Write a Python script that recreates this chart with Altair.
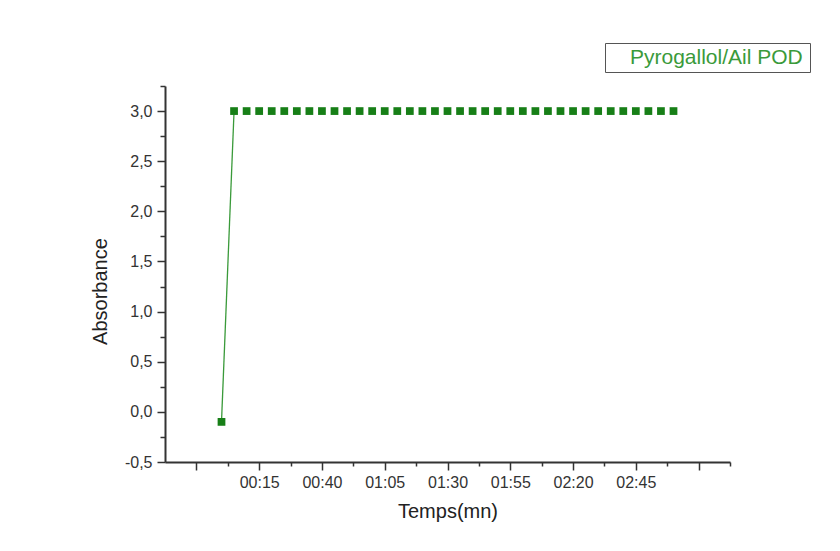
import altair as alt
import pandas as pd

# Data (time in seconds, absorbance)
times = [0, 5, 10, 15, 20, 25, 30, 35, 40, 45, 50, 55, 60, 65, 70, 75, 80, 85, 90,
         95, 100, 105, 110, 115, 120, 125, 130, 135, 140, 145, 150, 155, 160, 165,
         170, 175, 180]
absorbance = [-0.1, 3.0, 3.0, 3.0, 3.0, 3.0, 3.0, 3.0, 3.0, 3.0, 3.0, 3.0, 3.0,
              3.0, 3.0, 3.0, 3.0, 3.0, 3.0, 3.0, 3.0, 3.0, 3.0, 3.0, 3.0, 3.0,
              3.0, 3.0, 3.0, 3.0, 3.0, 3.0, 3.0, 3.0, 3.0, 3.0, 3.0]
series_name = "Pyrogallol/Ail POD"

x_major = [-10, 15, 40, 65, 90, 115, 140, 165, 190]
x_minor = [2.5, 27.5, 52.5, 77.5, 102.5, 127.5, 152.5, 177.5, 202.5]
y_major = [-0.5, 0.0, 0.5, 1.0, 1.5, 2.0, 2.5, 3.0]
y_minor = [-0.25, 0.25, 0.75, 1.25, 1.75, 2.25, 2.75, 3.25]

df = pd.DataFrame({"time": times, "abs": absorbance, "series": [series_name] * len(times)})

GREEN = "#177f17"
LINE_GREEN = "#3a9a3a"
AXIS = "#333333"
FONT = "Liberation Sans"

xs = alt.Scale(domain=[-22.5, 202.5], nice=False, zero=False)
ys = alt.Scale(domain=[-0.5, 3.25], nice=False, zero=False)

x_label_expr = ("datum.value >= 0 && datum.value <= 180 ? "
                "pad('' + floor(datum.value / 60), 2, '0', 'left') + ':' + "
                "pad('' + (datum.value % 60), 2, '0', 'left') : ''")

x_main_axis = alt.Axis(
    orient="bottom", values=x_major, labelExpr=x_label_expr, title="Temps(mn)",
    grid=False, domainColor=AXIS, domainWidth=2, tickColor=AXIS, tickWidth=1.5,
    tickSize=8, labelFontSize=16, labelColor=AXIS, labelPadding=4,
    labelFont=FONT, titleFont=FONT, titleFontSize=20, titleFontWeight="normal",
    titleColor="#222222", titleY=49, titleBaseline="middle",
)
y_main_axis = alt.Axis(
    orient="left", values=y_major,
    labelExpr="replace(replace(format(datum.value, '.1f'), '−', '-'), '.', ',')",
    title="Absorbance", grid=False, domainColor=AXIS, domainWidth=2,
    tickColor=AXIS, tickWidth=1.5, tickSize=8, labelFontSize=16,
    labelColor=AXIS, labelPadding=5, labelFont=FONT, titleFont=FONT,
    titleFontSize=20, titleFontWeight="normal", titleColor="#222222",
    titleX=-65, titleY=205, titleBaseline="middle",
)
x_minor_axis = alt.Axis(
    orient="bottom", values=x_minor, labels=False, title=None, domain=False,
    grid=False, tickColor=AXIS, tickWidth=1.5, tickSize=4,
)
y_minor_axis = alt.Axis(
    orient="left", values=y_minor, labels=False, title=None, domain=False,
    grid=False, tickColor=AXIS, tickWidth=1.5, tickSize=5,
)

base = alt.Chart(df)

line = base.transform_filter(alt.datum.time <= 5).mark_line(
    color=LINE_GREEN, strokeWidth=1.3
).encode(
    x=alt.X("time:Q", scale=xs, axis=x_main_axis),
    y=alt.Y("abs:Q", scale=ys, axis=y_main_axis),
)

points = base.mark_square(size=60, opacity=1).encode(
    x=alt.X("time:Q", scale=xs, axis=None),
    y=alt.Y("abs:Q", scale=ys, axis=None),
    color=alt.Color(
        "series:N",
        scale=alt.Scale(range=[GREEN]),
        legend=alt.Legend(
            title="\u00a0", titleOrient="right", titlePadding=3,
            titleFontSize=20, titleFont=FONT,
            orient="none", legendX=440, legendY=-43,
            symbolType="square", symbolSize=1, symbolOpacity=0,
            symbolStrokeWidth=0,
            labelOffset=0, padding=4, strokeColor="#555555",
            labelFont=FONT, labelFontSize=21, labelColor="#3a9a3a",
            labelLimit=400,
        ),
    ),
)

minor = base.mark_point(opacity=0).encode(
    x=alt.X("time:Q", scale=xs, axis=x_minor_axis),
    y=alt.Y("abs:Q", scale=ys, axis=y_minor_axis),
)

chart = alt.layer(line, points, minor).resolve_axis(
    x="independent", y="independent"
).properties(
    width=565, height=376,
    padding={"left": 165, "top": 86, "right": 110, "bottom": 89},
    autosize=alt.AutoSizeParams(type="none"),
    background="white",
).configure_view(stroke=None)

chart.save("out.html", embed_options={"renderer": "svg", "actions": False})
